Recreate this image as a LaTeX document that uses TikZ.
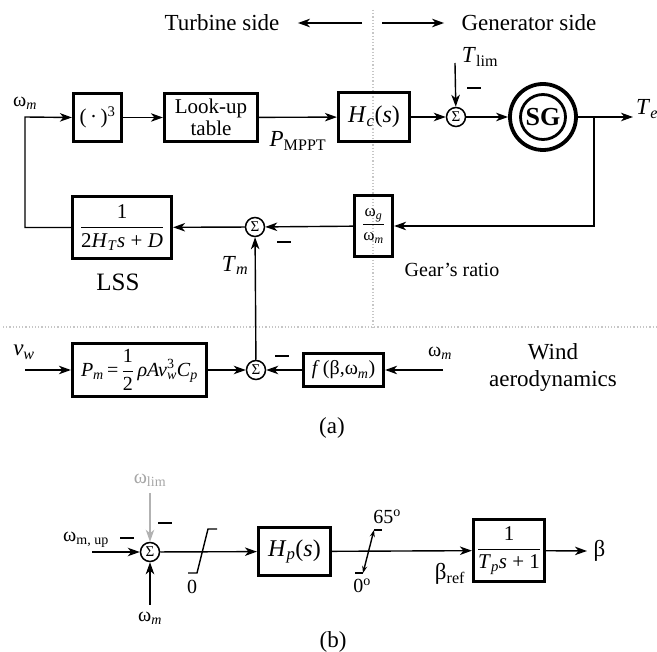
\documentclass[tikz,border=0pt]{standalone}
\usepackage{fontspec}
\setmainfont{Liberation Serif}
\usetikzlibrary{arrows.meta}

\begin{document}
\begin{tikzpicture}[
    x=1pt, y=-1pt,
    box/.style={rectangle, draw, line width=3.2pt, inner sep=0pt, align=center, font=\fontsize{21}{22}\selectfont},
    sumnode/.style={circle, draw, line width=1.5pt, minimum size=19pt, inner sep=0pt, font=\fontsize{15}{15}\selectfont},
    arrow/.style={-{Stealth[length=12pt, width=8.5pt, inset=3.5pt]}, line width=1.4pt},
    line/.style={line width=1.4pt},
    minus/.style={inner sep=0pt, minimum size=0pt},
    big/.style={font=\fontsize{23}{26}\selectfont},
    small/.style={font=\fontsize{20}{23}\selectfont},
    sep/.style={draw=gray!45, dotted, line width=1.2pt}
]
    \useasboundingbox (0,0) rectangle (657,652);

    % separators
    \draw[sep] (373,10) -- (373,327);
    \draw[sep] (3,327) -- (657,327);

    \node[big] (turb) at (222,23) {Turbine side};
    \node[big] (gen) at (529,23) {Generator side};
    \coordinate (dvl) at (362,23);
    \coordinate (dvr) at (382,23);
    \draw[arrow] (dvl) -- ([xshift=15pt]turb.east);
    \draw[arrow] (dvr) -- ([xshift=-14pt]gen.west);

    % (a) upper loop
    \node[box, minimum width=48pt, minimum height=48pt] (cube) at (97.5,117.5) {(\,·\,)\textsuperscript{3}};
    \node[box, minimum width=93pt, minimum height=48pt] (lut) at (211,117.5) {Look-up\\table};
    \node[box, minimum width=71pt, minimum height=49pt, font=\fontsize{24}{26}\selectfont] (hc) at (374,117) {\textit{H}\textsubscript{\textit{c}}(\textit{s})};
    \node[sumnode] (sum1) at (456,117) {Σ};
    \node[circle, draw, line width=3.8pt, minimum size=66pt, inner sep=0pt] (sg) at (543,117) {};
    \node[circle, draw, line width=2.8pt, minimum size=45pt, inner sep=0pt, font=\fontsize{26}{26}\selectfont\bfseries] (sgin) at (543,117) {SG};
    \coordinate (br) at (594,117);
    \coordinate (teout) at (633,117);
    \node[big, anchor=west, inner sep=1pt] (te) at (635,109) {\textit{T}\textsubscript{\textit{e}}};
    \coordinate (tl) at (455,63);
    \node[big] (tlim) at (480,57) {\textit{T}\textsubscript{lim}};
    \node[minus] (m1) at (474,88) {\rule{14pt}{1.8pt}};
    \node[small] (wm1) at (25,103) {ω\textsubscript{\textit{m}}};
    \coordinate (fb) at (25,117);

    \node[box, minimum width=38pt, minimum height=61pt, font=\fontsize{17}{18}\selectfont] (gear) at (373.5,226) {$\displaystyle\frac{\mbox{ω\textsubscript{\textit{g}}}}{\mbox{ω\textsubscript{\textit{m}}}}$};
    \node[small] (gearlbl) at (452,270) {Gear’s ratio};
    \node[sumnode] (sum2) at (255,227) {Σ};
    \node[minus] (m2) at (284,242) {\rule{14pt}{1.8pt}};
    \node[box, minimum width=99pt, minimum height=62pt] (lss) at (122,227.5) {$\displaystyle\frac{\mbox{1}}{\mbox{2\textit{H}\textsubscript{\textit{T}}\textit{s} + \textit{D}}}$};
    \node[font=\fontsize{25}{27}\selectfont] (lsslbl) at (118,282) {LSS};

    \draw[arrow] (lss.west) -- (lss.west -| fb) -- (fb) -- (cube.west);
    \draw[arrow] (cube) -- (lut);
    \draw[arrow] (lut) -- node[below=10pt, big] {\textit{P}\textsubscript{MPPT}} (hc);
    \draw[arrow] (hc) -- (sum1);
    \draw[arrow] (tl) -- (sum1);
    \draw[arrow] (sum1) -- (sg);
    \draw[arrow] (sg.east) -- (teout);
    \draw[arrow] (br) |- (gear);
    \draw[arrow] (gear) -- (sum2);
    \draw[arrow] (sum2) -- (lss);

    % (a) wind aerodynamics
    \node[box, minimum width=134pt, minimum height=53pt, font=\fontsize{20}{22}\selectfont] (pm) at (139.5,370) {\textit{P}\textsubscript{\textit{m}}\,=\,$\displaystyle\frac{\mbox{1}}{\mbox{2}}$\,\textit{ρAv}\rlap{\textsuperscript{3}}\textsubscript{\textit{w}}\textit{C}\textsubscript{\textit{p}}};
    \node[sumnode] (sum3) at (256,370) {Σ};
    \node[box, minimum width=80pt, minimum height=33pt, font=\fontsize{20}{22}\selectfont] (ffun) at (343.5,370) {\textit{f}\,(β,ω\textsubscript{\textit{m}})};
    \node[minus] (m3) at (282,356) {\rule{14pt}{1.8pt}};
    \coordinate (vwin) at (25,370);
    \node[big] (vw) at (24,352) {\textit{v}\textsubscript{\textit{w}}};
    \coordinate (wmin) at (443,370);
    \node[small] (wm2) at (440,353) {ω\textsubscript{\textit{m}}};
    \node[big, align=center, font=\fontsize{23}{27}\selectfont] (wind) at (553,368) {Wind\\aerodynamics};

    \draw[arrow] (vwin) -- (pm);
    \draw[arrow] (pm) -- (sum3);
    \draw[arrow] (wmin) -- (ffun);
    \draw[arrow] (ffun) -- (sum3);
    \draw[arrow] (sum3) -- node[pos=0.77, left=3pt, big] {\textit{T}\textsubscript{\textit{m}}} (sum2);

    \node[big] (capa) at (332,428) {(a)};

    % (b) pitch control
    \node[small, text=gray!70] (wlim) at (150,480) {ω\textsubscript{lim}};
    \coordinate (wlimin) at (150,493);
    \node[sumnode] (sumb) at (150,552) {Σ};
    \node[minus] (m4) at (165,523) {\rule{14pt}{1.8pt}};
    \node[minus] (m5) at (127,538) {\rule{14pt}{1.8pt}};
    \node[small] (wmup) at (86,540) {ω\textsubscript{m, up}};
    \coordinate (wupin) at (92,552);
    \node[small] (wm3) at (150,618) {ω\textsubscript{\textit{m}}};
    \coordinate (wmbin) at (150,605);
    \node[box, minimum width=72pt, minimum height=48pt, font=\fontsize{24}{26}\selectfont] (hp) at (294.5,551.5) {\textit{H}\textsubscript{\textit{p}}(\textit{s})};
    \node[box, minimum width=71pt, minimum height=62pt] (tp) at (509,550.5) {$\displaystyle\frac{\mbox{1}}{\mbox{\textit{T}\textsubscript{\textit{p}}\textit{s} + 1}}$};
    \coordinate (betaout) at (587,551);
    \node[big, anchor=west] (beta) at (590,551) {β};
    \node[big] (bref) at (450,574) {β\textsubscript{ref}};

    \draw[arrow, gray!60] (wlimin) -- (sumb);
    \draw[arrow] (wupin) -- (sumb);
    \draw[arrow, line width=2pt] (wmbin) -- (sumb);
    \draw[arrow] (sumb) -- (hp);
    \draw[arrow] (hp) -- (tp);
    \draw[arrow] (tp) -- (betaout);

    % limiters
    \draw[line] (188,573) -- (197,573) -- (208,529) -- (217,529);
    \node[small] (zero) at (192,587) {0};
    \draw[line] (355,573) -- (363,573);
    \draw[line, {Stealth[length=7pt, width=5pt]}-{Stealth[length=7pt, width=5pt]}] (363,573) -- (374,530);
    \draw[line] (374,530) -- (382,530);
    \node[small] (lim65) at (387,517) {65\textsuperscript{o}};
    \node[small] (lim0) at (362,586) {0\textsuperscript{o}};

    \node[big] (capb) at (333,642) {(b)};
\end{tikzpicture}
\end{document}
